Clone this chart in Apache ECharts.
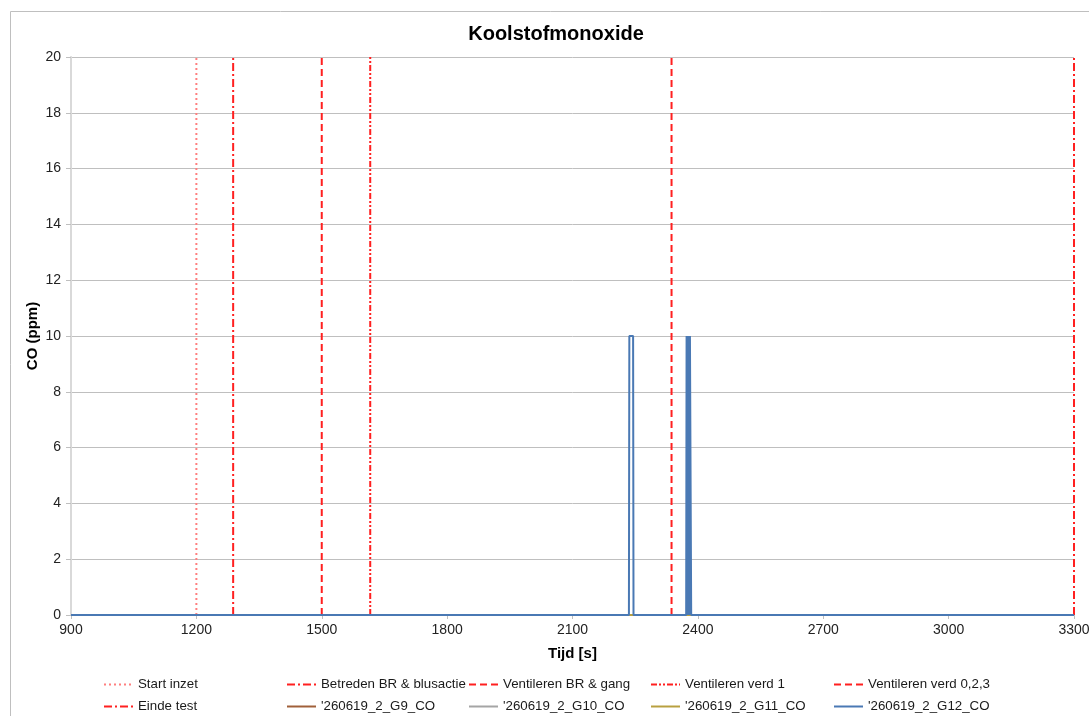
<!DOCTYPE html>
<html><head><meta charset="utf-8">
<script src="https://cdn.jsdelivr.net/npm/echarts@6/dist/echarts.min.js"></script>
<style>html,body{margin:0;padding:0;background:#fff;overflow:hidden}#c{width:1089px;height:716px}</style>
</head><body><div id="c"></div>
<script>
// Event markers (time in s)
const eventNames = ['Start inzet','Betreden BR & blusactie','Ventileren BR & gang','Ventileren verd 1','Ventileren verd 0,2,3','Einde test'];
const eventTimes = [1200, 1288, 1500, 1616, 2337, 3300];
const eventColors = ['#ff7f7f','#ff2020','#ff2020','#ff2020','#ff2020','#ff2020'];
const eventDash = [[2,3],[8,3,2,3],[7,4],[6,2,2,2,2,2],[7,4],[8,3,2,3]];

// Measured CO series (time s, ppm)
const seriesNames = ["'260619_2_G9_CO","'260619_2_G10_CO","'260619_2_G11_CO","'260619_2_G12_CO"];
const seriesColors = ['#a0603a','#a5a5a5','#b8a040','#4a79b4'];
const g9Times  = [900, 3300];
const g9Vals   = [0, 0];
const g10Times = [900, 3300];
const g10Vals  = [0, 0];
const g11Times = [900, 3300];
const g11Vals  = [0, 0];
const g12Times = [900, 2235, 2236, 2245, 2246, 2372, 2373, 2375, 2376, 2377, 2378, 2379, 2380, 2381, 2382, 2383, 2384, 3300];
const g12Vals  = [0,   0,    10,   10,   0,    0,    10,   10,   0,    10,   0,    10,   0,    10,   10,   10,   0,    0];

const xTicks = [900,1200,1500,1800,2100,2400,2700,3000,3300];

function pairs(t, v){ return t.map((x,i)=>[x, v[i]]); }

const series = [];
eventNames.forEach((n,i)=>{
  series.push({name:n, type:'line', symbol:'none', silent:true,
    data:[[eventTimes[i],0],[eventTimes[i],20]],
    lineStyle:{color:eventColors[i], width:2, type:eventDash[i]},
    itemStyle:{color:eventColors[i]}, z:3});
});
const mt = [g9Times,g10Times,g11Times,g12Times], mv=[g9Vals,g10Vals,g11Vals,g12Vals];
seriesNames.forEach((n,i)=>{
  series.push({name:n, type:'line', symbol:'none', data:pairs(mt[i],mv[i]),
    lineStyle:{color:seriesColors[i], width:2}, itemStyle:{color:seriesColors[i]}, z:4+i});
});

// legend layout: two rows, five columns
const legendRows = [
  [eventNames[0], eventNames[1], eventNames[2], eventNames[3], eventNames[4]],
  [eventNames[5], seriesNames[0], seriesNames[1], seriesNames[2], seriesNames[3]]
];
const legendLeft = [103, 286, 468, 650, 833];
const legendTop = [678, 700];
const legends = [];
legendRows.forEach((row,r)=>row.forEach((name,c)=>{
  legends.push({data:[name], left:legendLeft[c], top:legendTop[r], itemWidth:29, itemHeight:14,
    itemStyle:{opacity:0}, selectedMode:false, padding:0,
    textStyle:{fontFamily:'Liberation Sans', fontSize:13.3, color:'#1a1a1a'}});
}));

const chart = echarts.init(document.getElementById('c'));
chart.setOption({
  animation:false,
  backgroundColor:'#fff',
  title:{text:'Koolstofmonoxide', left:551, top:19, textAlign:'center',
    textStyle:{fontFamily:'Liberation Sans', fontSize:20, fontWeight:'bold', color:'#000'}},
  graphic:[{type:'rect', shape:{x:10.5,y:11.5,width:1200,height:800}, style:{fill:'none', stroke:'#bfbfbf', lineWidth:1}, silent:true, z:-1}],
  grid:{left:71, right:15, top:57, bottom:101, outerBoundsMode:'none', containLabel:false},
  legend:legends,
  xAxis:{type:'value', min:900, max:3300, interval:300,
    name:'Tijd [s]', nameLocation:'middle', nameGap:31, nameMoveOverlap:false,
    nameTextStyle:{fontFamily:'Liberation Sans', fontSize:15, fontWeight:'bold', color:'#000'},
    axisLine:{show:true, lineStyle:{color:'#bfbfbf', width:1}},
    axisTick:{show:true, length:4, lineStyle:{color:'#bfbfbf'}},
    axisLabel:{fontFamily:'Liberation Sans', fontSize:14, color:'#222', margin:8,
      formatter:v=> xTicks.includes(v)? String(v):''},
    splitLine:{show:false}},
  yAxis:{type:'value', min:0, max:20, interval:2,
    name:'CO (ppm)', nameLocation:'middle', nameGap:31, nameRotate:90, nameMoveOverlap:false,
    nameTextStyle:{fontFamily:'Liberation Sans', fontSize:15, fontWeight:'bold', color:'#000'},
    axisLine:{show:true, lineStyle:{color:'#d9d9d9', width:2}},
    axisTick:{show:true, length:5, lineStyle:{color:'#bfbfbf'}},
    axisLabel:{fontFamily:'Liberation Sans', fontSize:14, color:'#222', margin:10},
    splitLine:{show:true, lineStyle:{color:'#bfbfbf', width:1}}},
  series:series
});
</script></body></html>
